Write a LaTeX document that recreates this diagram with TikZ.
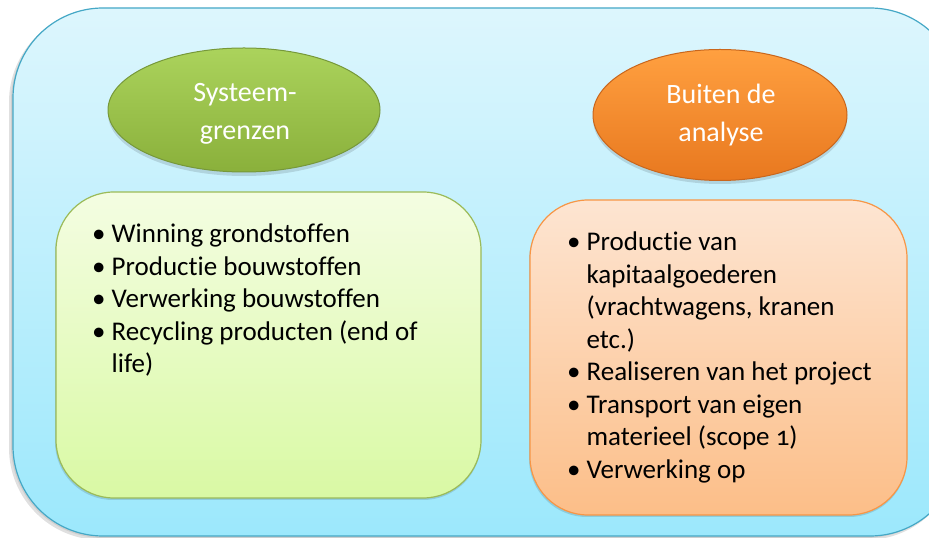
\documentclass[tikz,border=0pt]{standalone}
\usepackage{fontspec}
\setmainfont{Carlito}[Numbers=OldStyle, Ligatures=NoCommon]
\usetikzlibrary{shapes.geometric}
\definecolor{outerTop}{HTML}{DDF6FD}
\definecolor{outerBot}{HTML}{9CE8FC}
\definecolor{outerLine}{HTML}{45A8C6}
\definecolor{greenTop}{HTML}{F4FDE2}
\definecolor{greenBot}{HTML}{D9F9A4}
\definecolor{greenLine}{HTML}{9BBB59}
\definecolor{orangeTop}{HTML}{FDE5D2}
\definecolor{orangeBot}{HTML}{FCBE88}
\definecolor{orangeLine}{HTML}{F79646}
\definecolor{gEllTop}{HTML}{ABD35C}
\definecolor{gEllBot}{HTML}{8AB03B}
\definecolor{gEllLine}{HTML}{76983A}
\definecolor{oEllTop}{HTML}{FFA040}
\definecolor{oEllBot}{HTML}{E8781F}
\definecolor{oEllLine}{HTML}{C9661C}
\tikzset{
  ellnode/.style={ellipse, minimum width=#1, line width=1pt, inner sep=0pt},
  titletext/.style={inner sep=0pt, text=white, align=center, anchor=base,
    font=\fontsize{28}{38}\selectfont},
  listtext/.style={inner sep=0pt, font=\fontsize{27}{32.5}\selectfont, align=left},
  softshadow/.style={fill=black, opacity=0.12},
}
\begin{document}
\begin{tikzpicture}[x=1pt,y=1pt]
\useasboundingbox (0,0) rectangle (929,538);
% outer panel shadow
\fill[softshadow, rounded corners=92pt] (9,-2) rectangle (958,528);
\fill[black, opacity=0.08, rounded corners=92pt] (11,0) rectangle (958,529);
% outer panel
\draw[outerLine, line width=1.2pt, top color=outerTop, bottom color=outerBot, rounded corners=90pt]
  (13,2) rectangle (960,530);
% box shadows
\fill[softshadow, rounded corners=58pt] (55,38) rectangle (481,344);
\fill[softshadow, rounded corners=58pt] (529,21) rectangle (907,336);
% green box
\node[draw=greenLine, line width=1.2pt, top color=greenTop, bottom color=greenBot,
      rounded corners=58pt, minimum width=425pt, minimum height=306pt, inner sep=0pt]
  (gbox) at (268.5,193) {};
% orange box
\node[draw=orangeLine, line width=1.2pt, top color=orangeTop, bottom color=orangeBot,
      rounded corners=58pt, minimum width=377pt, minimum height=315pt, inner sep=0pt]
  (obox) at (718.5,180.5) {};
% ellipse shadows
\fill[softshadow] (244,424) ellipse [x radius=136pt, y radius=62pt];
\fill[softshadow] (720,419) ellipse [x radius=127pt, y radius=65pt];
% ellipses
\node[ellnode=272pt, minimum height=124pt, draw=gEllLine, top color=gEllTop, bottom color=gEllBot]
  (gell) at (244,428) {};
\node[ellnode=254pt, minimum height=131pt, draw=oEllLine, top color=oEllTop, bottom color=oEllBot]
  (oell) at (720,423) {};
\node[titletext] (gtitle) at (245,398) {Systeem-\\grenzen};
\node[titletext] (otitle) at (721,396) {Buiten de\\analyse};
% lists
\node[listtext, anchor=base west] (glist) at (92,295) {%
  \begin{tabular}[t]{@{}l@{\hspace{6pt}}l@{}}
  \textbullet & Winning grondstoffen\\
  \textbullet & Productie bouwstoffen\\
  \textbullet & Verwerking bouwstoffen\\
  \textbullet & Recycling producten (end of\\
              & life)
  \end{tabular}};
\node[listtext, anchor=base west] (olist) at (567,287) {%
  \begin{tabular}[t]{@{}l@{\hspace{6pt}}l@{}}
  \textbullet & Productie van\\
              & kapitaalgoederen\\
              & (vrachtwagens, kranen\\
              & etc.)\\
  \textbullet & Realiseren van het project\\
  \textbullet & Transport van eigen\\
              & materieel (scope 1)\\
  \textbullet & Verwerking op
  \end{tabular}};
\end{tikzpicture}
\end{document}
